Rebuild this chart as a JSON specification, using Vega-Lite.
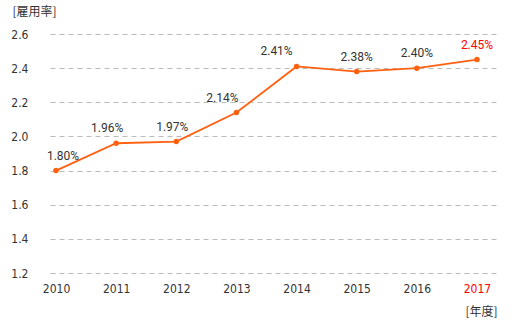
{
  "$schema": "https://vega.github.io/schema/vega-lite/v6.json",
  "autosize": "none",
  "width": 447,
  "height": 239,
  "padding": {"left": 50, "top": 34, "right": 15, "bottom": 52},
  "background": "white",
  "config": {
    "view": {"stroke": null},
    "font": "Roboto"
  },
  "data": {
    "values": [
      {"year": 2010, "rate": 1.80, "label": "1.80%"},
      {"year": 2011, "rate": 1.96, "label": "1.96%"},
      {"year": 2012, "rate": 1.97, "label": "1.97%"},
      {"year": 2013, "rate": 2.14, "label": "2.14%"},
      {"year": 2014, "rate": 2.41, "label": "2.41%"},
      {"year": 2015, "rate": 2.38, "label": "2.38%"},
      {"year": 2016, "rate": 2.40, "label": "2.40%"},
      {"year": 2017, "rate": 2.45, "label": "2.45%"}
    ]
  },
  "encoding": {
    "x": {
      "field": "year",
      "type": "quantitative",
      "scale": {"domain": [2009.9, 2017.333], "nice": false, "zero": false},
      "axis": {
        "values": [2010, 2011, 2012, 2013, 2014, 2015, 2016, 2017],
        "format": "d",
        "grid": false,
        "domain": false,
        "ticks": false,
        "labelPadding": 10,
        "labelFont": "DejaVu Sans Condensed",
        "labelFontSize": 12,
        "labelColor": {"condition": {"test": "datum.value == 2017", "value": "#ff0000"}, "value": "#333333"},
        "title": "[年度]",
        "titleFont": "Noto Sans CJK JP",
        "titleFontSize": 12,
        "titleFontWeight": "normal",
        "titleColor": "#333333",
        "titleAlign": "right",
        "titleAnchor": "end",
        "titleX": 447,
        "titleY": 38,
        "titleBaseline": "middle"
      }
    },
    "y": {
      "field": "rate",
      "type": "quantitative",
      "scale": {"domain": [1.2, 2.6], "nice": false, "zero": false},
      "axis": {
        "values": [1.2, 1.4, 1.6, 1.8, 2.0, 2.2, 2.4, 2.6],
        "format": ".1f",
        "domain": false,
        "ticks": false,
        "labelPadding": 22,
        "labelFont": "DejaVu Sans Condensed",
        "labelFontSize": 12,
        "labelColor": "#333333",
        "gridColor": "#bbbbbb",
        "gridDash": [5, 4],
        "gridWidth": 1,
        "title": "[雇用率]",
        "titleFont": "Noto Sans CJK JP",
        "titleFontSize": 12,
        "titleFontWeight": "normal",
        "titleColor": "#333333",
        "titleAngle": 0,
        "titleAlign": "left",
        "titleBaseline": "middle",
        "titleX": -38,
        "titleY": -23
      }
    }
  },
  "layer": [
    {
      "mark": {"type": "line", "color": "#ff6010", "strokeWidth": 1.8},
      "encoding": {}
    },
    {
      "mark": {"type": "point", "filled": true, "color": "#ff6010", "size": 30, "opacity": 1},
      "encoding": {}
    },
    {
      "mark": {
        "type": "text",
        "fontSize": 12,
        "font": "Roboto",
        "dy": -15,
        "dx": {"expr": "datum.year == 2010 ? 7 : datum.year == 2011 ? -9 : datum.year == 2012 ? -4 : datum.year == 2013 ? -14 : datum.year == 2014 ? -20 : 0"}
      },
      "encoding": {
        "text": {"field": "label"},
        "color": {
          "condition": {"test": "datum.year == 2017", "value": "#ff0000"},
          "value": "#333333"
        }
      }
    }
  ]
}
